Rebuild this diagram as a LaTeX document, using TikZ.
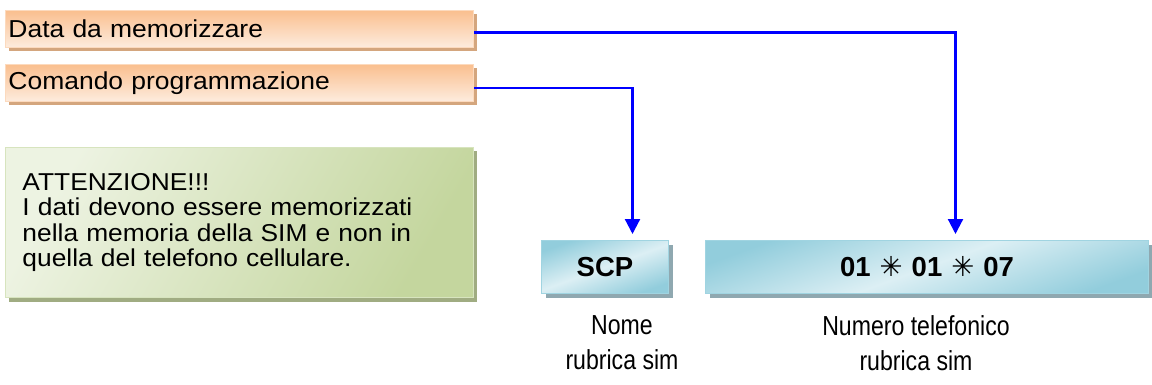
\documentclass[tikz,border=0pt]{standalone}
\usepackage{fontspec}
\setmainfont{Liberation Sans}
\newfontfamily\symfont{DejaVu Sans}
\newfontfamily\widefont[FakeStretch=1.08]{Liberation Sans}
\newfontfamily\condfont[FakeStretch=0.84]{Liberation Sans}
\usetikzlibrary{shadows,arrows.meta,calc}
\definecolor{orgA}{RGB}{250,191,143}
\definecolor{orgB}{RGB}{253,236,222}
\definecolor{orgS}{RGB}{212,166,126}
\definecolor{orgD}{RGB}{252,218,190}
\definecolor{grnA}{RGB}{237,243,226}
\definecolor{grnB}{RGB}{196,214,158}
\definecolor{grnS}{RGB}{160,172,130}
\definecolor{grnD}{RGB}{215,228,190}
\definecolor{bluA}{RGB}{146,205,220}
\definecolor{bluB}{RGB}{220,239,244}
\definecolor{bluS}{RGB}{143,168,176}
\definecolor{bluD}{RGB}{160,212,225}
\definecolor{lineblue}{RGB}{0,0,255}
\begin{document}
\begin{tikzpicture}[x=1pt,y=-1pt,
  orangebox/.style={draw=orgD, line width=1pt, top color=orgA, bottom color=orgB,
    minimum width=468pt, minimum height=37pt, text width=462pt, inner xsep=3pt, inner ysep=0pt,
    align=left, anchor=north west, font=\widefont\fontsize{24.5}{30}\selectfont,
    drop shadow={shadow xshift=3pt, shadow yshift=-4pt, fill=orgS, opacity=1}},
  greenbox/.style={draw=grnD, line width=1pt, left color=grnA, right color=grnB, shading angle=60,
    minimum width=468pt, minimum height=150pt, text width=434pt, inner xsep=17pt,
    align=left, anchor=north west, font=\widefont\fontsize{24.4}{25.6}\selectfont,
    drop shadow={shadow xshift=3pt, shadow yshift=-4pt, fill=grnS, opacity=1}},
  bluebox/.style={draw=bluD, line width=1pt, top color=bluA, bottom color=bluA, middle color=bluB,
    shading angle=20, align=center, anchor=north west, inner sep=0pt,
    font=\fontsize{27.5}{30}\selectfont\bfseries,
    drop shadow={shadow xshift=4pt, shadow yshift=-4pt, fill=bluS, opacity=1}},
  caption/.style={align=center, font=\condfont\fontsize{27.5}{35}\selectfont, anchor=north, inner sep=0pt},
  conn/.style={draw=lineblue, line width=2.2pt, -{Triangle[width=15pt,length=15pt]}, shorten >=6pt}
]
\useasboundingbox (0,0) rectangle (1152,385);

\node[orangebox] (data) at (5,10) {Data da memorizzare};
\node[orangebox] (cmd) at (5,64) {Comando programmazione};

\node[greenbox] (note) at (5,147) {ATTENZIONE!!!\\I dati devono essere memorizzati\\nella memoria della SIM e non in\\quella del telefono cellulare.};

\node[bluebox, minimum width=127pt, minimum height=53pt] (scp) at (541,240) {SCP};
\node[bluebox, minimum width=443pt, minimum height=53pt] (num) at (705,240)
  {01\hspace{9pt}{\symfont ✳}\hspace{9pt}01\hspace{9pt}{\symfont ✳}\hspace{9pt}07};

\node[caption] (cap1) at (622,315) {Nome\\rubrica sim};
\node[caption] (cap2) at (916,315) {Numero telefonico\\rubrica sim};

\draw[conn] ([yshift=-3.5pt]data.east) -| ([xshift=28.5pt]num.north);
\draw[conn] ([yshift=-5pt]cmd.east) -| ([xshift=27.5pt]scp.north);
\end{tikzpicture}
\end{document}
